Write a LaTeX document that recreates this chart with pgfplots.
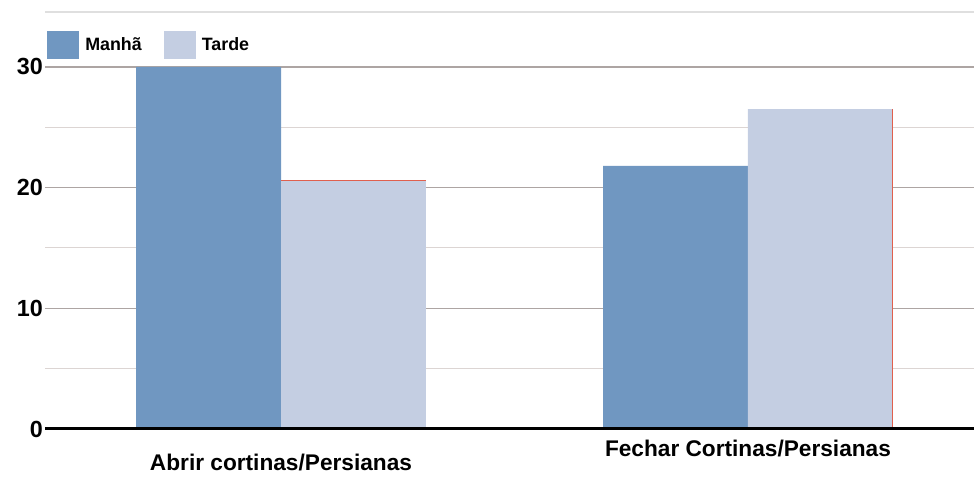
\documentclass[border=0pt]{standalone}
\usepackage{fontspec}
\setmainfont{Liberation Sans}
\usepackage{pgfplots}
\pgfplotsset{compat=1.18}

\definecolor{manha}{HTML}{7097C1}
\definecolor{tarde}{HTML}{C4CEE2}
\definecolor{gridmajor}{HTML}{ADA5A3}
\definecolor{gridminor}{HTML}{DCD5D3}
\definecolor{edgered}{HTML}{E0604E}

\begin{document}
\begin{tikzpicture}
\useasboundingbox (-33.75pt,-35.25pt) rectangle (696.75pt,321.75pt);
\begin{axis}[
  at={(0pt,0pt)}, anchor=south west,
  scale only axis, width=696.75pt, height=312.75pt,
  xmin=-0.5054, xmax=1.484, ymin=0, ymax=34.55,
  axis line style={draw=none},
  xtick={0,1},
  xticklabels={Abrir cortinas/Persianas, \raisebox{10.5pt}{Fechar Cortinas/Persianas}},
  ytick={0,10,20,30}, minor ytick={5,15,25},
  ymajorgrids, yminorgrids,
  major grid style={gridmajor, line width=1pt},
  minor grid style={gridminor, line width=0.8pt},
  tick style={draw=none},
  /pgf/number format/assume math mode=true,
  yticklabel style={font=\fontsize{17.5}{20}\selectfont\bfseries, inner sep=1.5pt},
  xticklabel style={font=\fontsize{17}{20}\selectfont\bfseries, anchor=base, yshift=-30.75pt},
  legend columns=2,
  legend style={at={(0,1)}, anchor=north west, xshift=1.5pt, yshift=-14.25pt,
    draw=none, fill=none, inner sep=0pt,
    font=\fontsize{13.4}{15}\selectfont\bfseries,
    /tikz/every even column/.append style={column sep=12pt},
    nodes={inner xsep=4.5pt}},
  legend image code/.code={\fill[#1] (0pt,-10.5pt) rectangle (24pt,10.5pt);},
]
% Manhã / Tarde per activity
\addplot[ybar, bar width=0.31, bar shift=-0.155, fill=manha, draw=none]
  coordinates {(0,30) (1,21.8)};
\addplot[ybar, bar width=0.31, bar shift=0.155, fill=tarde, draw=none]
  coordinates {(0,20.6) (1,26.5)};
% thin red edges on the Tarde bars
\addplot[edgered, line width=0.8pt, forget plot] coordinates {(0,20.6) (0.31,20.6)};
\addplot[edgered, line width=0.8pt, forget plot] coordinates {(1.31,0) (1.31,26.5)};
\legend{Manhã, Tarde}
% frame: light top line, heavy baseline
\draw[gray!25, line width=0.8pt] (rel axis cs:0,1) -- (rel axis cs:1,1);
\draw[black, line width=2.3pt] (rel axis cs:0,0) -- (rel axis cs:1,0);
\end{axis}
\end{tikzpicture}
\end{document}
